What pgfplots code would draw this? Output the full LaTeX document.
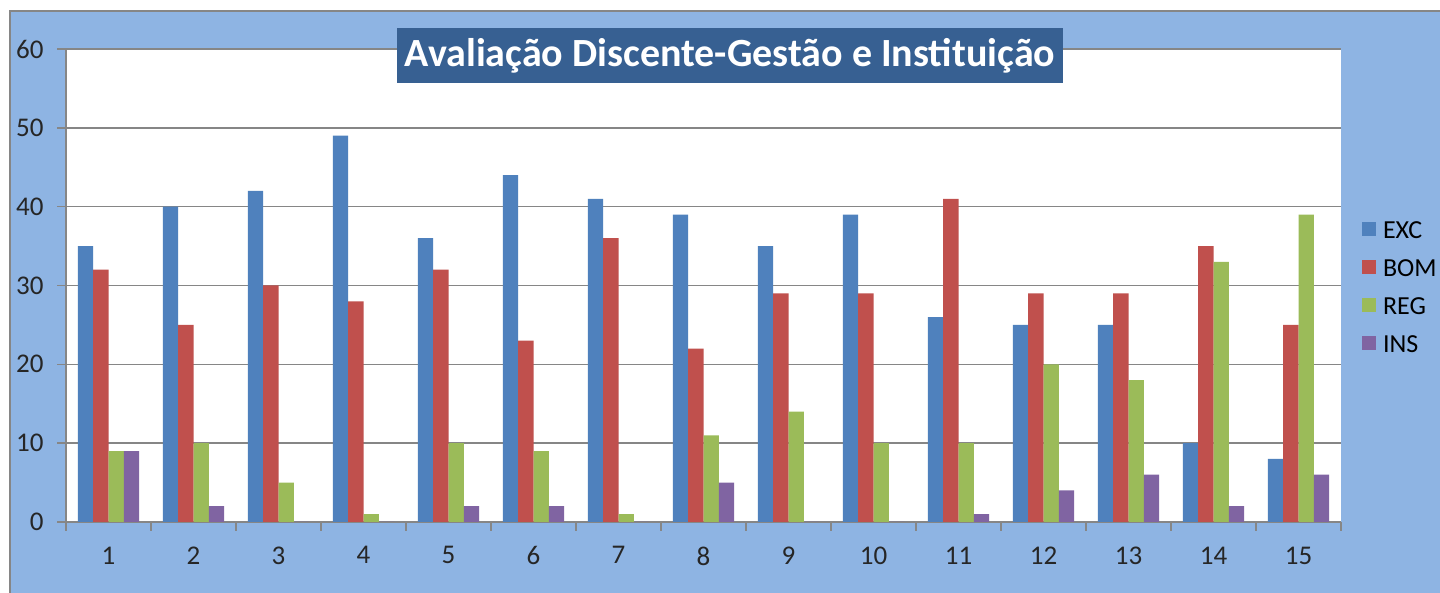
\documentclass[border=0pt]{standalone}
\usepackage{fontspec}
\setmainfont{Carlito}
\usepackage{pgfplots}
\usepackage{pgfplotstable}
\pgfplotsset{compat=1.18}
\definecolor{bgblue}{HTML}{8EB4E3}
\definecolor{titlebg}{HTML}{376092}
\definecolor{exc}{HTML}{4F81BD}
\definecolor{bom}{HTML}{C0504D}
\definecolor{reg}{HTML}{9BBB59}
\definecolor{ins}{HTML}{8064A2}
\definecolor{gridgray}{HTML}{868686}
\pgfplotsset{sqlegend/.style={legend image code/.code={\fill[##1] (0pt,-3.5pt) rectangle (7pt,3.5pt);}}}

\pgfplotstableread{
cat exc bom reg ins
1 35 32 9 9
2 40 25 10 2
3 42 30 5 0
4 49 28 1 0
5 36 32 10 2
6 44 23 9 2
7 41 36 1 0
8 39 22 11 5
9 35 29 14 0
10 39 29 10 0
11 26 41 10 1
12 25 29 20 4
13 25 29 18 6
14 10 35 33 2
15 8 25 39 6
}\data

\begin{document}
\begin{tikzpicture}
\fill[white] (0,0) rectangle (720pt,296.5pt);
\path[use as bounding box] (0,0) rectangle (720pt,296.5pt);
\fill[bgblue] (5pt,0) rectangle (720pt,291pt);
\draw[gridgray, line width=0.8pt] (5pt,0) -- (5pt,291pt) -- (720pt,291pt);
\begin{axis}[
  at={(33pt,35.5pt)}, anchor=south west,
  scale only axis, width=637.5pt, height=236.5pt,
  axis background/.style={fill=white},
  ybar=0pt, bar width=7.65pt,
  xmin=0.5, xmax=15.5, ymin=0, ymax=60,
  xtick={1,...,15}, minor xtick={0.5,1.5,...,15.5},
  ytick={0,10,...,60},
  major x tick style={draw=none},
  tick align=outside, major tick length=4.5pt, minor tick length=4.5pt,
  tick style={gridgray, line width=0.7pt},
  axis y line*=left, axis x line*=bottom,
  axis line style={gridgray, line width=0.8pt, -},
  ymajorgrids, grid style={gridgray, line width=0.7pt},
  /pgf/number format/assume math mode=true,
  tick label style={font=\fontsize{13.5}{15}\selectfont, text=black!85},
  xticklabel style={yshift=-4.3pt},
  yticklabel style={xshift=-3.2pt},
  title={Avaliação Discente-Gestão e Instituição},
  title style={at={(axis description cs:0.5208,0.9609)}, anchor=center,
    fill=titlebg, text=white, font=\bfseries\fontsize{20}{22}\selectfont,
    minimum width=333pt, minimum height=27.5pt, inner sep=0pt},
  legend style={at={(axis description cs:1.01647,0.6376)}, anchor=north west,
    draw=none, fill=none, inner sep=0pt, outer sep=0pt,
    font=\fontsize{13}{15}\selectfont, row sep=10pt, column sep=3.5pt,
    nodes={inner sep=0pt, text height=9pt, text depth=0pt}},
  legend cell align=left,
]
\addplot[fill=exc, draw=none, sqlegend] table[x=cat,y=exc]{\data};
\addplot[fill=bom, draw=none, sqlegend] table[x=cat,y=bom]{\data};
\addplot[fill=reg, draw=none, sqlegend] table[x=cat,y=reg]{\data};
\addplot[fill=ins, draw=none, sqlegend] table[x=cat,y=ins]{\data};
\legend{EXC,BOM,REG,INS}
\end{axis}
\end{tikzpicture}
\end{document}
